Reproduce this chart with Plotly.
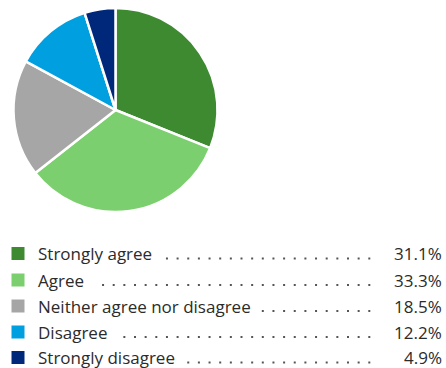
import plotly.graph_objects as go
import numpy as np

labels = ["Strongly agree", "Agree", "Neither agree nor disagree", "Disagree", "Strongly disagree"]
values = [31.1, 33.3, 18.5, 12.2, 4.9]
pct_labels = ["31.1%", "33.3%", "18.5%", "12.2%", "4.9%"]
colors = ["#3d8a30", "#7ccf6e", "#a6a6a6", "#009fe0", "#00287a"]

W, H = 446, 368
FONT = "Open Sans"
TXT = "#2b2b2b"

# layout (pixel positions for the legend block)
row_y = [253.5, 280, 306, 332, 357.5]
dot_start = [166.7, 101.7, 263, 123, 187]
dot_end = 369.3
dot_step = 10.65

fig = go.Figure()
fig.add_trace(go.Pie(
    labels=labels, values=values, sort=False, direction="clockwise", rotation=0,
    marker=dict(colors=colors, line=dict(color="white", width=2.5)),
    textinfo="none", hoverinfo="label+percent",
    domain=dict(x=[13.5 / W, 217.5 / W], y=[1 - 212 / H, 1 - 8 / H]),
    showlegend=False,
))

# legend squares
fig.add_trace(go.Scatter(
    x=[18] * len(labels), y=row_y, mode="markers",
    marker=dict(symbol="square", size=13, color=colors, line=dict(width=0)),
    showlegend=False, hoverinfo="skip",
))

# dotted leaders
dx, dy = [], []
for yv, xs in zip(row_y, dot_start):
    n = int(round((dot_end - xs) / dot_step))
    pts = dot_end - dot_step * np.arange(n + 1)
    dx.extend(pts.tolist())
    dy.extend([yv + 5] * len(pts))
fig.add_trace(go.Scatter(
    x=dx, y=dy, mode="markers",
    marker=dict(symbol="square", size=2, color="#555555"),
    showlegend=False, hoverinfo="skip",
))

for lab, p, yv in zip(labels, pct_labels, row_y):
    fig.add_annotation(x=36, y=yv, text=lab, showarrow=False, xanchor="left", yanchor="middle",
                       xref="x", yref="y", font=dict(family=FONT, size=17, color=TXT))
    fig.add_annotation(x=444, y=yv, text=p, showarrow=False, xanchor="right", yanchor="middle",
                       xref="x", yref="y", font=dict(family=FONT, size=17, color=TXT))

fig.update_xaxes(range=[0, W], visible=False, fixedrange=True)
fig.update_yaxes(range=[H, 0], visible=False, fixedrange=True)
fig.update_layout(
    width=W, height=H, margin=dict(l=0, r=0, t=0, b=0),
    paper_bgcolor="white", plot_bgcolor="rgba(0,0,0,0)",
    font=dict(family=FONT, color=TXT),
)
fig.write_html("out.html")
